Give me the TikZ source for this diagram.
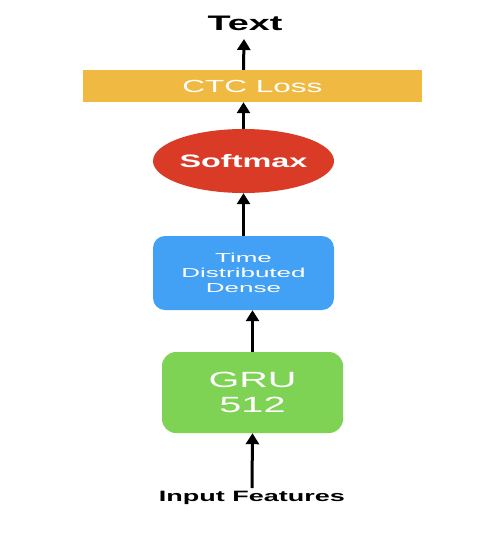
\documentclass[tikz,border=0pt]{standalone}
\usepackage{fontspec}
\setmainfont{Liberation Sans}
\newfontfamily\wide[FakeStretch=1.8]{Liberation Sans}
\newfontfamily\wider[FakeStretch=2.0]{Liberation Sans}
\usetikzlibrary{shapes.geometric,arrows.meta}
\definecolor{ctcc}{HTML}{F0BA42}
\definecolor{softc}{HTML}{D93B26}
\definecolor{tddc}{HTML}{42A0F5}
\definecolor{gruc}{HTML}{7ED355}
\begin{document}
\begin{tikzpicture}[x=1pt,y=-1pt,
  conn/.style={line width=3pt,-{Triangle[width=13pt,length=11pt]}},
  lbl/.style={text=black,inner sep=0pt},
  box/.style={draw=none,text=white,align=center,inner sep=0pt}]
\useasboundingbox[fill=white] (0,0) rectangle (479,550);
\node[lbl,font=\wide\fontsize{21}{24}\selectfont\bfseries] (text) at (245,23) {Text};
\node[box,fill=ctcc,minimum width=339pt,minimum height=32pt,font=\wide\fontsize{17.5}{20}\selectfont] (ctc) at (252.5,86) {CTC Loss};
\node[box,ellipse,fill=softc,minimum width=181pt,minimum height=64pt,font=\wide\fontsize{18}{22}\selectfont\bfseries] (soft) at (243.5,161) {Softmax};
\node[box,fill=tddc,rounded corners=12pt,minimum width=181pt,minimum height=74pt,font=\wider\fontsize{13}{15}\selectfont] (tdd) at (243.5,273) {Time\\Distributed\\Dense};
\node[box,fill=gruc,rounded corners=14pt,minimum width=181pt,minimum height=81pt,font=\wide\fontsize{22}{25}\selectfont] (gru) at (252.5,392.5) {GRU\\512};
\node[lbl,font=\wide\fontsize{15}{18}\selectfont\bfseries] (inp) at (252,498) {Input Features};
\coordinate (inpt) at (252,488);
\coordinate (textb) at (244,39);
\draw[conn] (inpt) -- (gru.south);
\draw[conn] (gru.north) -- (gru.north |- tdd.south);
\draw[conn] (tdd.north) -- (soft.south);
\draw[conn] (soft.north) -- (soft.north |- ctc.south);
\draw[conn] (soft.north |- ctc.north) -- (textb);
\end{tikzpicture}
\end{document}
